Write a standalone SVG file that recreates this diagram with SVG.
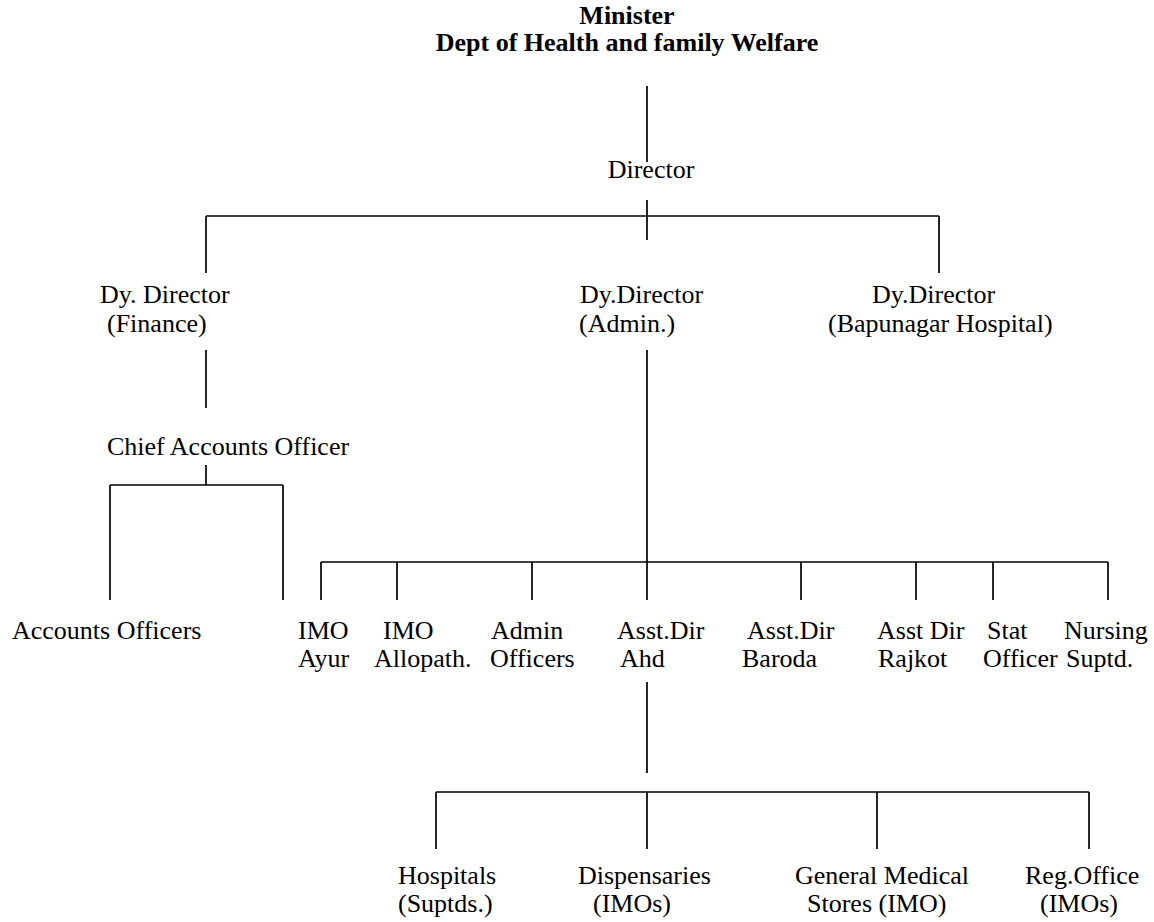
<svg xmlns="http://www.w3.org/2000/svg" width="1154" height="922" viewBox="0 0 1154 922">
<style>
text{font-family:"Liberation Serif","Times New Roman",serif;font-size:26px;fill:#000}
.b{font-weight:bold;text-anchor:middle}
.c{text-anchor:middle}
#connectors line{stroke:#000;stroke-width:1.7;fill:none}
</style>
<rect width="1154" height="922" fill="#fff"/>
<g id="connectors">
<line x1="647" y1="86" x2="647" y2="162"/>
<line x1="647" y1="200" x2="647" y2="240"/>
<line x1="206" y1="216" x2="939" y2="216"/>
<line x1="206" y1="216" x2="206" y2="273"/>
<line x1="939" y1="216" x2="939" y2="273"/>
<line x1="206" y1="350" x2="206" y2="408"/>
<line x1="206" y1="465" x2="206" y2="485"/>
<line x1="110" y1="485" x2="283" y2="485"/>
<line x1="110" y1="485" x2="110" y2="600"/>
<line x1="283" y1="485" x2="283" y2="600"/>
<line x1="647" y1="350" x2="647" y2="600"/>
<line x1="321" y1="562" x2="1108" y2="562"/>
<line x1="321" y1="562" x2="321" y2="600"/>
<line x1="397" y1="562" x2="397" y2="600"/>
<line x1="532" y1="562" x2="532" y2="600"/>
<line x1="801" y1="562" x2="801" y2="600"/>
<line x1="916" y1="562" x2="916" y2="600"/>
<line x1="993" y1="562" x2="993" y2="600"/>
<line x1="1108" y1="562" x2="1108" y2="600"/>
<line x1="647" y1="682" x2="647" y2="773"/>
<line x1="436" y1="792" x2="1089" y2="792"/>
<line x1="436" y1="792" x2="436" y2="849"/>
<line x1="647" y1="792" x2="647" y2="849"/>
<line x1="877" y1="792" x2="877" y2="849"/>
<line x1="1089" y1="792" x2="1089" y2="849"/>
</g>
<g id="minister"><text class="b" x="627" y="24">Minister</text><text class="b" x="627" y="51">Dept of Health and family Welfare</text></g>
<g id="director"><text class="c" x="651" y="178">Director</text></g>
<g id="dd-finance"><text x="100" y="303">Dy. Director</text><text x="107" y="332">(Finance)</text></g>
<g id="dd-admin"><text x="580" y="303">Dy.Director</text><text x="579" y="332">(Admin.)</text></g>
<g id="dd-bapunagar"><text x="872" y="303">Dy.Director</text><text x="828" y="332">(Bapunagar Hospital)</text></g>
<g id="chief-accounts"><text x="107" y="455">Chief Accounts Officer</text></g>
<g id="accounts-officers"><text x="12" y="639">Accounts Officers</text></g>
<g id="imo-ayur"><text x="298" y="639">IMO</text><text x="298" y="667">Ayur</text></g>
<g id="imo-allopath"><text x="383" y="639">IMO</text><text x="374" y="667">Allopath.</text></g>
<g id="admin-officers"><text x="491" y="639">Admin</text><text x="490" y="667">Officers</text></g>
<g id="asst-ahd"><text x="617" y="639">Asst.Dir</text><text x="620" y="667">Ahd</text></g>
<g id="asst-baroda"><text x="747" y="639">Asst.Dir</text><text x="742" y="667">Baroda</text></g>
<g id="asst-rajkot"><text x="877" y="639">Asst Dir</text><text x="878" y="667">Rajkot</text></g>
<g id="stat-officer"><text x="987" y="639">Stat</text><text x="983" y="667">Officer</text></g>
<g id="nursing"><text x="1064" y="639">Nursing</text><text x="1066" y="667">Suptd.</text></g>
<g id="hospitals"><text x="398" y="884">Hospitals</text><text x="398" y="912">(Suptds.)</text></g>
<g id="dispensaries"><text x="578" y="884">Dispensaries</text><text x="593" y="912">(IMOs)</text></g>
<g id="gms"><text x="795" y="884">General Medical</text><text x="807" y="912">Stores (IMO)</text></g>
<g id="reg-office"><text x="1025" y="884">Reg.Office</text><text x="1040" y="912">(IMOs)</text></g>
</svg>
